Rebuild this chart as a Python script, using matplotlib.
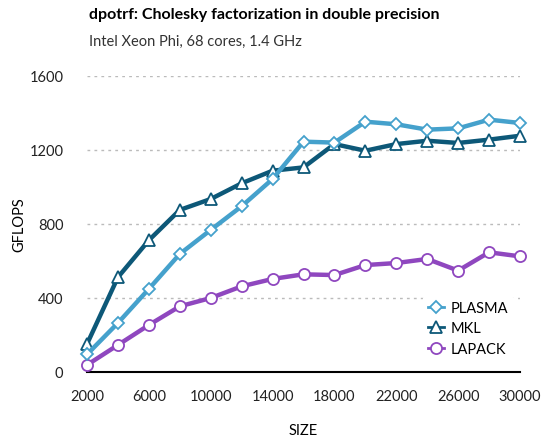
import matplotlib
matplotlib.use('Agg')
import matplotlib.pyplot as plt

sizes = [2000, 4000, 6000, 8000, 10000, 12000, 14000, 16000,
         18000, 20000, 22000, 24000, 26000, 28000, 30000]
plasma = [95, 265, 449, 638, 768, 896, 1043, 1245,
          1240, 1353, 1339, 1310, 1317, 1364, 1346]
mkl = [151, 512, 712, 876, 935, 1020, 1088, 1106,
       1232, 1196, 1232, 1250, 1238, 1256, 1277]
lapack = [38, 146, 254, 355, 400, 463, 503, 528,
          524, 578, 589, 611, 548, 647, 625]
xticks = [2000, 6000, 10000, 14000, 18000, 22000, 26000, 30000]
yticks = [0, 400, 800, 1200, 1600]

plt.rcParams['font.family'] = ['Lato', 'DejaVu Sans']

fig = plt.figure(figsize=(5.43, 4.39), dpi=100)
ax = fig.add_axes([87/543, 1 - 373/439, 433/543, 296/439])

ax.plot(sizes, plasma, color='#45a1cc', lw=3.2, marker='D', ms=6.5,
        mfc='white', mec='#45a1cc', mew=1.3, label='PLASMA', clip_on=False, zorder=4)
ax.plot(sizes, mkl, color='#0d5878', lw=3.2, marker='^', ms=8,
        mfc='white', mec='#0d5878', mew=1.3, label='MKL', clip_on=False, zorder=3)
ax.plot(sizes, lapack, color='#8f47bf', lw=3.2, marker='o', ms=8,
        mfc='white', mec='#8f47bf', mew=1.3, label='LAPACK', clip_on=False, zorder=3)

ax.set_xlim(2000, 30000)
ax.set_ylim(0, 1600)
ax.set_xticks(xticks)
ax.set_yticks(yticks)
ax.tick_params(length=0, labelsize=10.5, colors='#222222')
ax.tick_params(axis='x', pad=12)
ax.tick_params(axis='y', pad=17)
for s in ['top', 'right', 'left']:
    ax.spines[s].set_visible(False)
ax.spines['bottom'].set_linewidth(1.5)
ax.spines['bottom'].set_color('black')
ax.yaxis.grid(True, linestyle=(0, (2, 3)), color='#bbbbbb', lw=1)
ax.set_axisbelow(True)

ax.set_xlabel('SIZE', fontsize=10.5)
ax.set_ylabel('GFLOPS', fontsize=10.5)
ax.xaxis.set_label_coords(0.5, -0.172)
ax.yaxis.set_label_coords(-0.14, 0.5)

leg = ax.legend(loc='lower right', bbox_to_anchor=(1.0, 0.015), frameon=True,
                fontsize=10.5, handlelength=1.1, handletextpad=0.5,
                labelspacing=0.45, borderpad=0.3)
leg.get_frame().set_edgecolor('white')
leg.get_frame().set_alpha(1)
for h in leg.get_lines():
    h.set_linewidth(2)

fig.text(89/543, 1 - 15/439, 'dpotrf: Cholesky factorization in double precision',
         fontsize=11.5, fontweight='bold', va='center', ha='left')
fig.text(89/543, 1 - 42/439, 'Intel Xeon Phi, 68 cores, 1.4 GHz',
         fontsize=10.5, va='center', ha='left', color='#333333')

fig.savefig('out.png', dpi=100)
